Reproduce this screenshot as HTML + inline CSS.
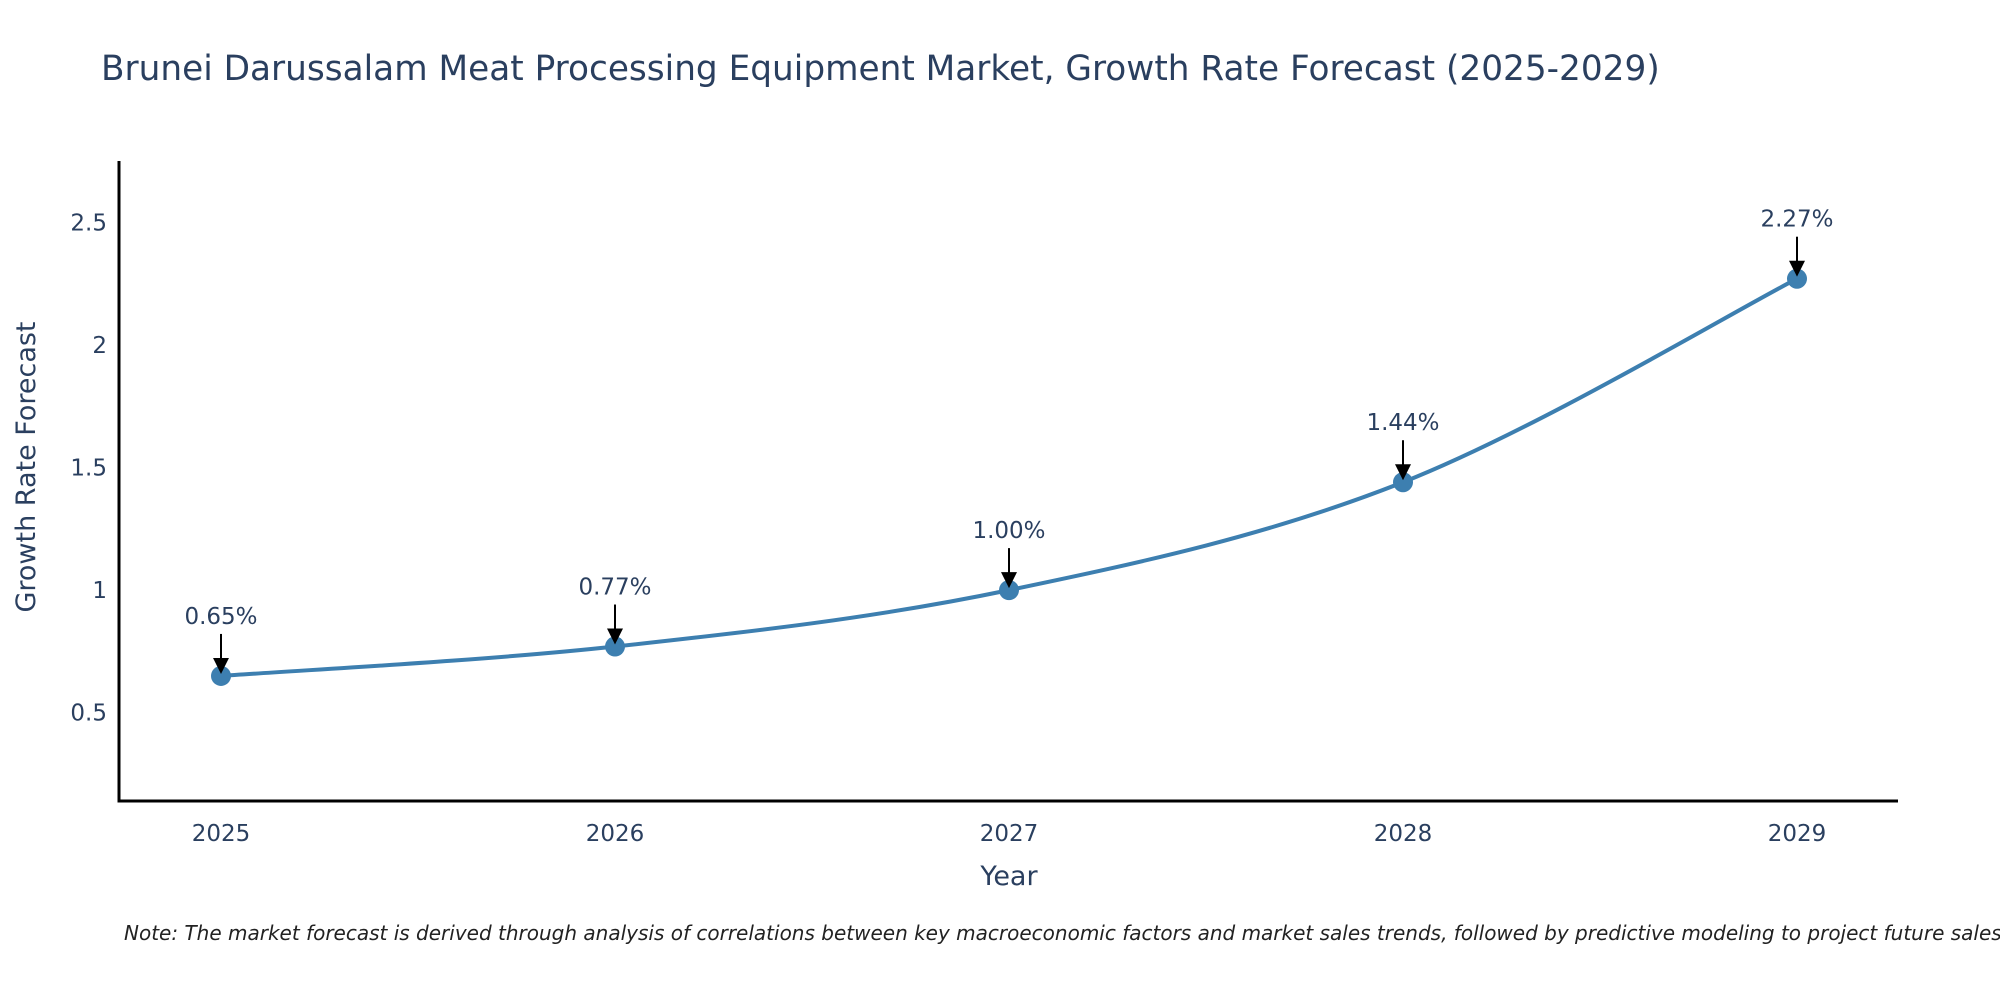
<!DOCTYPE html>
<html><head><meta charset="utf-8"><style>
html,body{margin:0;padding:0;background:#fff;overflow:hidden;}
svg{display:block;font-family:"DejaVu Sans","Liberation Sans",sans-serif;}
</style></head><body>
<svg id="chart" width="2000" height="1000" viewBox="0 0 2000 1000" xmlns="http://www.w3.org/2000/svg">
<text x="101" y="80" font-size="34.3" fill="#2a3f5f">Brunei Darussalam Meat Processing Equipment Market, Growth Rate Forecast (2025-2029)</text>
<g id="plot"></g>
<text x="1009" y="885" font-size="27" fill="#2a3f5f" text-anchor="middle">Year</text>
<text transform="translate(35,467) rotate(-90)" font-size="27" fill="#2a3f5f" text-anchor="middle">Growth Rate Forecast</text>
<text x="124" y="940" font-size="20" font-style="italic" fill="#222">Note: The market forecast is derived through analysis of correlations between key macroeconomic factors and market sales trends, followed by predictive modeling to project future sales.</text>
</svg>
<script>
const years = [2025, 2026, 2027, 2028, 2029];
const values = [0.65, 0.77, 1.00, 1.44, 2.27];
const labels = ["0.65%", "0.77%", "1.00%", "1.44%", "2.27%"];
const yTicks = [0.5, 1, 1.5, 2, 2.5];
const yTickLabels = ["0.5", "1", "1.5", "2", "2.5"];

const NS = "http://www.w3.org/2000/svg";
const plot = document.getElementById("plot");
const L = 119, R = 1898, T = 161, B = 801;
const yMin = 0.14, yMax = 2.75;
const xPos = v => 221 + (v - years[0]) * (1797 - 221) / (years[years.length-1] - years[0]);
const yPos = v => B - (v - yMin) * (B - T) / (yMax - yMin);
function mk(tag, attrs){const e=document.createElementNS(NS,tag);for(const k in attrs)e.setAttribute(k,attrs[k]);plot.appendChild(e);return e;}

const defs = mk("defs",{});
defs.innerHTML='<marker id="ah" markerWidth="8" markerHeight="8" refX="6" refY="4" orient="auto" markerUnits="strokeWidth"><path d="M0,0 L8,4 L0,8 Z" fill="#000"/></marker>';

yTicks.forEach((t,i)=>{
  const tx = mk("text",{x:L-12,y:yPos(t)+8,"font-size":"23",fill:"#2a3f5f","text-anchor":"end"});
  tx.textContent = yTickLabels[i];
  
  
});
years.forEach(y=>{
  const tx = mk("text",{x:xPos(y),y:B+40,"font-size":"23",fill:"#2a3f5f","text-anchor":"middle"});
  tx.textContent = y;
  
  
});
const ya = mk("line",{x1:L,y1:T,x2:L,y2:B+1.5,stroke:"#000","stroke-width":"3"});


const xa = mk("line",{x1:L-1.5,y1:B,x2:R,y2:B,stroke:"#000","stroke-width":"3"});



const pts = years.map((y,i)=>[xPos(y), yPos(values[i])]);
let d = "M"+pts[0][0]+","+pts[0][1];
const s = 0.17;
for(let i=0;i<pts.length-1;i++){
  const p0=pts[Math.max(0,i-1)], p1=pts[i], p2=pts[i+1], p3=pts[Math.min(pts.length-1,i+2)];
  const c1=[p1[0]+(p2[0]-p0[0])*s, p1[1]+(p2[1]-p0[1])*s];
  const c2=[p2[0]-(p3[0]-p1[0])*s, p2[1]-(p3[1]-p1[1])*s];
  d+=" C"+c1[0]+","+c1[1]+" "+c2[0]+","+c2[1]+" "+p2[0]+","+p2[1];
}
const line = mk("path",{d:d,fill:"none",stroke:"#3d7fb0","stroke-width":"4"});



pts.forEach((p,i)=>{
  const c = mk("circle",{cx:p[0],cy:p[1],r:"10",fill:"#3d7fb0"});
  
  
  const a = mk("line",{x1:p[0],y1:p[1]-42,x2:p[0],y2:p[1]-6,stroke:"#000","stroke-width":"2","marker-end":"url(#ah)"});
  
  
  const t = mk("text",{x:p[0],y:p[1]-52,"font-size":"23",fill:"#2a3f5f","text-anchor":"middle"});
  t.textContent = labels[i];
  
  
});
</script>
</body></html>
